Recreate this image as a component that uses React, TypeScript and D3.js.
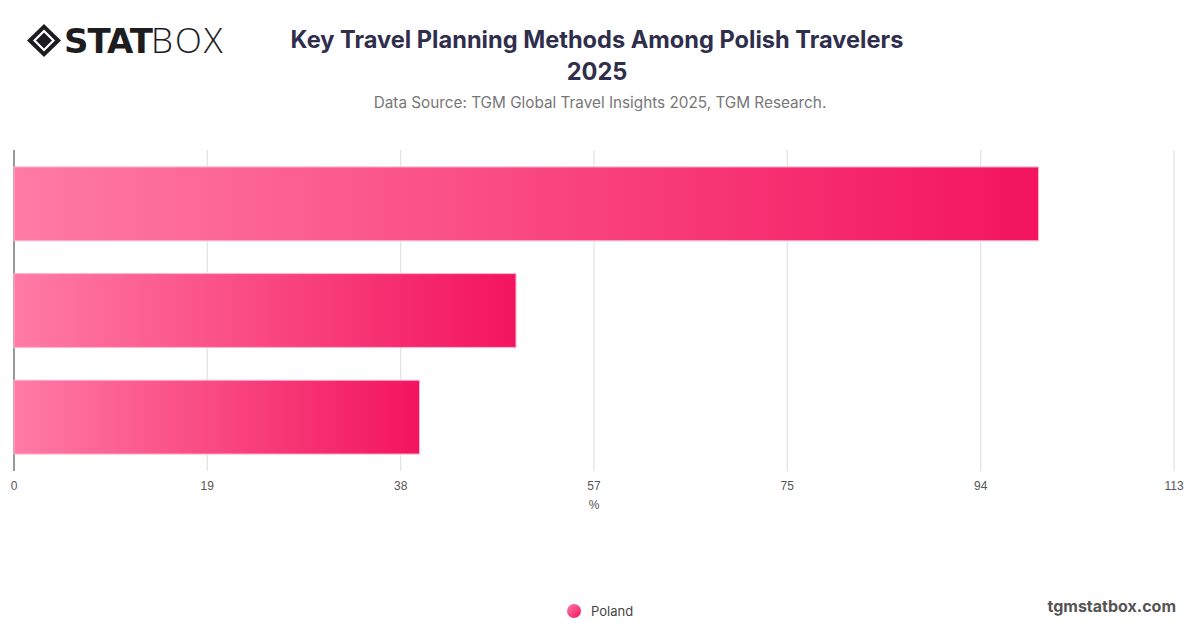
import React, { useEffect, useRef } from 'react';
import * as d3 from 'd3';

const categories = ['Online search', 'Recommendations from friends', 'Travel agencies'];
const values = [99.8, 48.9, 39.5];
const tickValues = [0, 18.83, 37.67, 56.5, 75.33, 94.17, 113];
const seriesName = 'Poland';

const App: React.FC = () => {
  const svgRef = useRef<SVGSVGElement | null>(null);

  useEffect(() => {
    const width = 1200;
    const height = 628;
    const marginLeft = 14;
    const marginRight = 26;
    const marginTop = 150;
    const plotBottom = 471;

    const svg = d3.select(svgRef.current);
    svg.selectAll('*').remove();
    svg.attr('viewBox', [0, 0, width, height]);

    const defs = svg.append('defs');
    const grad = defs.append('linearGradient')
      .attr('id', 'barGrad')
      .attr('x1', '0%').attr('x2', '100%').attr('y1', '0%').attr('y2', '0%');
    grad.append('stop').attr('offset', '0%').attr('stop-color', '#ff7ba5');
    grad.append('stop').attr('offset', '100%').attr('stop-color', '#f3145f');

    const x = d3.scaleLinear().domain([0, 113]).range([marginLeft, width - marginRight]);
    const y = d3.scaleBand().domain(categories).range([marginTop, plotBottom]).paddingInner(0.308).paddingOuter(0.159);

    // gridlines
    svg.append('g')
      .selectAll('line')
      .data(tickValues.slice(1))
      .join('line')
      .attr('x1', d => x(d)).attr('x2', d => x(d))
      .attr('y1', marginTop).attr('y2', plotBottom)
      .attr('stroke', '#dcdcdc')
      .attr('stroke-width', 1);

    // left axis line
    svg.append('line')
      .attr('x1', x(0)).attr('x2', x(0))
      .attr('y1', marginTop).attr('y2', plotBottom)
      .attr('stroke', '#333')
      .attr('stroke-width', 1);

    // bars
    svg.append('g')
      .selectAll('rect')
      .data(values)
      .join('rect')
      .attr('x', x(0))
      .attr('y', (d, i) => y(categories[i])!)
      .attr('width', d => x(d) - x(0))
      .attr('height', y.bandwidth())
      .attr('fill', 'url(#barGrad)')
      .attr('stroke', '#ffb3cb')
      .attr('stroke-width', 1);

    // tick labels
    svg.append('g')
      .selectAll('text')
      .data(tickValues)
      .join('text')
      .attr('x', d => x(d))
      .attr('y', 490)
      .attr('text-anchor', 'middle')
      .attr('font-family', '"Liberation Sans", Arimo, sans-serif')
      .attr('font-size', 12)
      .attr('fill', '#555')
      .text(d => d3.format('.0f')(d));

    svg.append('text')
      .attr('x', x(56.5)).attr('y', 509)
      .attr('text-anchor', 'middle')
      .attr('font-family', '"Liberation Sans", Arimo, sans-serif')
      .attr('font-size', 12)
      .attr('fill', '#555')
      .text('%');

    // title
    const title = svg.append('text')
      .attr('text-anchor', 'middle')
      .attr('font-family', 'Inter, "Open Sans", sans-serif')
      .attr('font-weight', 700)
      .attr('font-size', 23.6)
      .attr('fill', '#2f2e4c');
    title.append('tspan').attr('x', 597).attr('y', 48).text('Key Travel Planning Methods Among Polish Travelers');
    title.append('tspan').attr('x', 597).attr('y', 80).text('2025');

    svg.append('text')
      .attr('x', 600).attr('y', 108)
      .attr('text-anchor', 'middle')
      .attr('font-family', 'Inter, "Open Sans", sans-serif')
      .attr('font-size', 15.3)
      .attr('fill', '#777')
      .text('Data Source: TGM Global Travel Insights 2025, TGM Research.');

    // logo
    const logo = svg.append('g').attr('fill', '#1d1d1f');
    logo.append('path')
      .attr('d', 'M44,24 L61,40.5 L44,57 L27,40.5 Z')
      .attr('fill', '#1d1d1f');
    logo.append('path')
      .attr('d', 'M44,31 L53.5,40.5 L44,50 L34.5,40.5 Z')
      .attr('fill', 'none')
      .attr('stroke', '#fff')
      .attr('stroke-width', 2.2);
    logo.append('text')
      .attr('x', 64).attr('y', 53)
      .attr('font-family', '"DejaVu Sans", sans-serif')
      .attr('font-weight', 900)
      .attr('font-size', 34)
      .attr('letter-spacing', -1)
      .text('STAT');
    logo.append('text')
      .attr('x', 151).attr('y', 53)
      .attr('font-family', '"Open Sans", sans-serif')
      .attr('font-weight', 300)
      .attr('font-size', 35)
      .attr('letter-spacing', 2)
      .text('BOX');

    // legend
    const legendGrad = defs.append('linearGradient')
      .attr('id', 'legendGrad')
      .attr('x1', '0%').attr('x2', '100%').attr('y1', '0%').attr('y2', '100%');
    legendGrad.append('stop').attr('offset', '0%').attr('stop-color', '#ff7ba5');
    legendGrad.append('stop').attr('offset', '100%').attr('stop-color', '#f3145f');
    svg.append('circle')
      .attr('cx', 574).attr('cy', 611).attr('r', 7)
      .attr('fill', 'url(#legendGrad)');
    svg.append('text')
      .attr('x', 591).attr('y', 616)
      .attr('font-family', 'Inter, "Open Sans", sans-serif')
      .attr('font-size', 13)
      .attr('fill', '#444')
      .text(seriesName);

    svg.append('text')
      .attr('x', 1176).attr('y', 612)
      .attr('text-anchor', 'end')
      .attr('font-family', 'Inter, "Open Sans", sans-serif')
      .attr('font-weight', 700)
      .attr('font-size', 16)
      .attr('fill', '#555')
      .text('tgmstatbox.com');
  }, []);

  return (
    <svg
      ref={svgRef}
      width={1200}
      height={628}
      style={{ position: 'absolute', left: 0, top: 0, background: '#fff' }}
    ></svg>
  );
};

export default App;
